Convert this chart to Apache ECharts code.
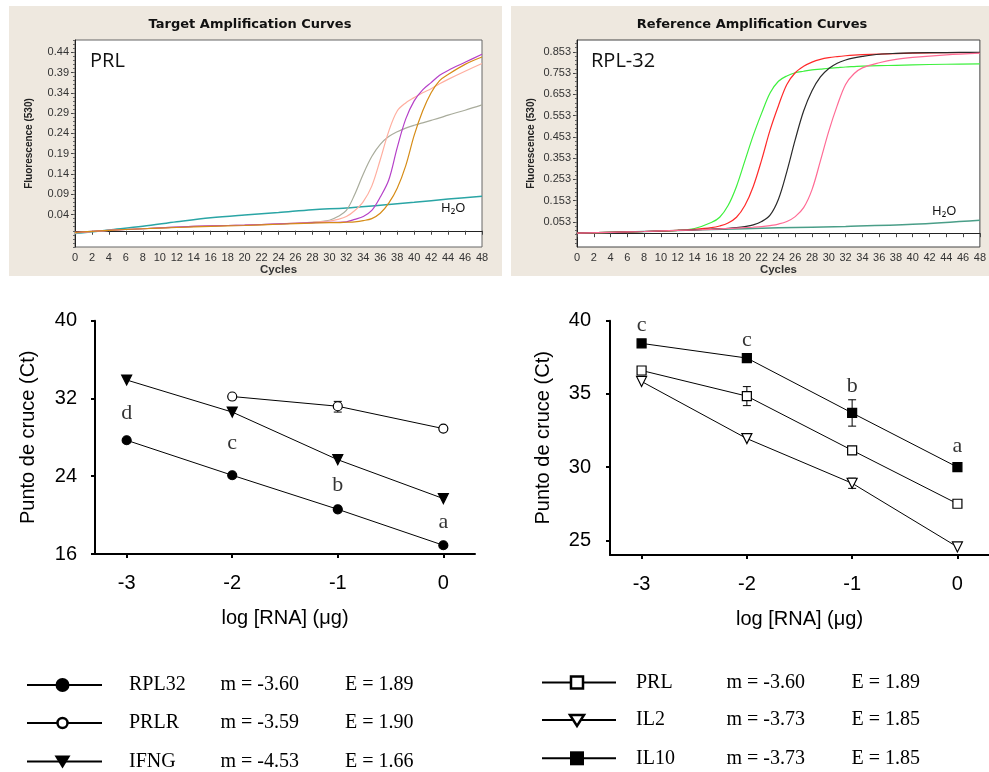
<!DOCTYPE html>
<html><head><meta charset="utf-8">
<script src="https://cdn.jsdelivr.net/npm/echarts@6/dist/echarts.min.js"></script>
<style>html,body{margin:0;padding:0;background:#fff}#c{width:989px;height:772px}</style>
</head><body><div id="c"></div><script>
// ---------- DATA ----------
// Top-left: PRL amplification curves (fluorescence vs cycle)
const prlCycles = [0,4,8,12,16,20,24,28,30,31,32,33,34,35,36,37,38,39,40,41,42,43,44,46,48];
const prlGray    = [-0.005,0.001,0.005,0.009,0.012,0.014,0.017,0.021,0.026,0.035,0.05,0.09,0.14,0.183,0.213,0.232,0.244,0.253,0.26,0.266,0.272,0.278,0.285,0.297,0.31];
const prlSalmon  = [-0.005,0.001,0.005,0.009,0.012,0.014,0.017,0.021,0.024,0.028,0.035,0.05,0.072,0.11,0.175,0.245,0.295,0.315,0.328,0.34,0.35,0.362,0.373,0.393,0.412];
const prlMagenta = [-0.004,0.001,0.005,0.009,0.012,0.014,0.017,0.02,0.021,0.021,0.022,0.028,0.035,0.05,0.083,0.125,0.205,0.275,0.32,0.347,0.365,0.383,0.395,0.415,0.435];
const prlOrange  = [-0.004,0.001,0.005,0.008,0.011,0.013,0.016,0.019,0.02,0.02,0.021,0.022,0.025,0.03,0.043,0.068,0.105,0.16,0.235,0.295,0.34,0.37,0.385,0.41,0.428];
const prlWaterCycles = [0,4,8,12,16,20,24,28,32,36,40,44,48];
const prlWater   = [-0.007,0.002,0.011,0.022,0.032,0.039,0.045,0.052,0.056,0.063,0.07,0.078,0.085];
const prlTickLabels = ['0.04','0.09','0.14','0.19','0.24','0.29','0.34','0.39','0.44'];

// Top-right: RPL-32 amplification curves
const rplCycles = [0,4,8,12,14,16,17,18,19,20,21,22,23,24,25,26,27,28,29,30,31,32,33,34,36,38,40,44,48];
const rplGreen = [0,0.004,0.008,0.013,0.022,0.05,0.075,0.13,0.22,0.34,0.46,0.565,0.66,0.715,0.74,0.755,0.762,0.768,0.772,0.776,0.779,0.782,0.784,0.786,0.788,0.79,0.792,0.795,0.797];
const rplRed   = [0,0.004,0.008,0.013,0.018,0.026,0.034,0.048,0.075,0.13,0.22,0.345,0.485,0.6,0.7,0.755,0.785,0.805,0.818,0.826,0.831,0.835,0.838,0.84,0.843,0.845,0.847,0.849,0.85];
const rplBlack = [0,0.004,0.008,0.013,0.016,0.019,0.021,0.023,0.026,0.031,0.039,0.055,0.085,0.16,0.29,0.44,0.575,0.67,0.735,0.775,0.8,0.815,0.825,0.832,0.842,0.846,0.848,0.85,0.851];
const rplPink  = [0,0.004,0.008,0.013,0.015,0.018,0.02,0.022,0.024,0.026,0.028,0.031,0.036,0.043,0.055,0.078,0.12,0.205,0.34,0.48,0.6,0.7,0.75,0.778,0.802,0.818,0.827,0.839,0.847];
const rplWaterCycles = [0,8,16,24,32,40,48];
const rplWater = [0,0.008,0.017,0.025,0.032,0.042,0.061];
const rplTickLabels = ['0.053','0.153','0.253','0.353','0.453','0.553','0.653','0.753','0.853'];

// Bottom: Ct vs log[RNA]
const logRNA = [-3,-2,-1,0];
const rpl32Ct = [27.7,24.1,20.6,16.9];
const prlrCt  = [null,32.2,31.2,28.9];
const ifngCt  = [33.9,30.6,25.7,21.7];
const leftLetters = ['d','c','b','a'];
const leftLetterY = [30.5,27.4,23.1,19.3];
const leftErr = [[-1,30.6,31.7]];

const prlCt  = [36.6,34.85,31.15,27.5];
const il2Ct  = [35.85,31.95,28.9,24.55];
const il10Ct = [38.45,37.45,33.7,30.0];
const rightLetters = ['c','c','b','a'];
const rightLetterY = [39.7,38.7,35.5,31.45];
const rightErr = [[-1,32.8,34.6],[-2,34.2,35.5],[-1,30.9,31.4],[-1,28.55,29.25]];
const rightCtTicks = [25,30,35,40];

// Legend
const legLeftNames = ['RPL32','PRLR','IFNG'];
const legLeftM = ['m = -3.60','m = -3.59','m = -4.53'];
const legLeftE = ['E = 1.89','E = 1.90','E = 1.66'];
const legRightNames = ['PRL','IL2','IL10'];
const legRightM = ['m = -3.60','m = -3.73','m = -3.73'];
const legRightE = ['E = 1.89','E = 1.85','E = 1.85'];

// ---------- BUILD ----------
const pairs = (xs, ys) => xs.map((x,i)=>[x, ys[i]]);
const num = a => a.map(Number);
function minorTicks(major, div, min, max){
  const step = (major[1]-major[0])/div, out=[];
  for(let k=-200;k<=200;k++){const v=+(major[0]+k*step).toFixed(6); if(v>=min&&v<=max) out.push(v);} return out;
}
const chart = echarts.init(document.getElementById('c'));
const sans = 'Liberation Sans, Arial, sans-serif';
const serif = 'Liberation Serif, Times New Roman, serif';

function topX(gi){ return {gridIndex:gi,type:'value',min:0,max:48,interval:2,
  axisLine:{lineStyle:{color:'#222',width:1}},axisTick:{length:4,lineStyle:{color:'#444'}},
  axisLabel:{fontSize:11,color:'#333',margin:5,fontFamily:sans,interval:0,hideOverlap:false},
  splitLine:{show:false},name:'Cycles',nameLocation:'middle',nameGap:17,
  nameTextStyle:{fontSize:11.5,fontWeight:'bold',color:'#333',fontFamily:sans}}; }
function topY(gi,min,max,labels){ const vals=num(labels); return {gridIndex:gi,type:'value',min,max,position:'left',
  axisLine:{show:true,lineStyle:{color:'#222',width:1}},
  axisTick:{show:true,length:4,customValues:vals,lineStyle:{color:'#444'}},
  axisLabel:{customValues:vals,formatter:v=>labels[vals.findIndex(t=>Math.abs(t-v)<1e-6)]||'',fontSize:11,color:'#333',margin:6,fontFamily:sans},
  splitLine:{show:false},name:'Fluorescence (530)',nameLocation:'middle',nameRotate:90,nameGap:41,
  nameTextStyle:{fontSize:10,fontWeight:'bold',color:'#222',fontFamily:sans}}; }
function topYMinor(gi,min,max,labels){ return {gridIndex:gi,type:'value',min,max,position:'left',
  axisLine:{show:false},axisLabel:{show:false},splitLine:{show:false},
  axisTick:{show:true,length:2,customValues:minorTicks(num(labels),5,min,max),lineStyle:{color:'#666'}}}; }
function botX(gi){ return {gridIndex:gi,type:'value',min:-3.3,max:0.3,
  axisLine:{onZero:false,lineStyle:{color:'#000',width:2}},
  axisTick:{length:4,customValues:logRNA,lineStyle:{color:'#000',width:2}},
  axisLabel:{customValues:logRNA,fontSize:20,color:'#000',margin:19,fontFamily:sans},
  splitLine:{show:false},name:'log [RNA] (\u03bcg)',nameLocation:'middle',nameGap:54,
  nameTextStyle:{fontSize:20,color:'#000',fontFamily:sans}}; }
function botY(gi,min,max,extra){ return Object.assign({gridIndex:gi,type:'value',min,max,
  axisLine:{show:true,onZero:false,lineStyle:{color:'#000',width:2}},
  axisTick:{show:true,length:4,lineStyle:{color:'#000',width:2}},
  axisLabel:{fontSize:20,color:'#000',margin:18,fontFamily:sans},
  splitLine:{show:false},name:'Punto de cruce (Ct)',nameLocation:'middle',nameRotate:90,nameGap:57,
  nameTextStyle:{fontSize:20,color:'#000',fontFamily:sans}},extra); }

function curve(xi,yi,xs,ys,color,w){ return {type:'line',xAxisIndex:xi,yAxisIndex:yi,data:pairs(xs,ys),
  symbol:'none',smooth:0.35,lineStyle:{color,width:w||1.2},silent:true,z:3}; }
function ctLine(xi,yi,name,ys,symbol,fill,rot,size){ return {type:'line',name,xAxisIndex:xi,yAxisIndex:yi,
  data:pairs(logRNA,ys),symbol,symbolSize:size||9,symbolRotate:rot||0,
  itemStyle:{color:fill,borderColor:'#000',borderWidth:1.2},lineStyle:{color:'#000',width:1},z:4,silent:true}; }
function errSeries(xi,yi,data){ return {type:'custom',xAxisIndex:xi,yAxisIndex:yi,data,z:3,silent:true,
  encode:{x:0,y:[1,2]},
  renderItem:(p,api)=>{const x=api.value(0),a=api.coord([x,api.value(2)]),b=api.coord([x,api.value(1)]),w=4;
    const st={stroke:'#000',lineWidth:1};
    return {type:'group',children:[
      {type:'line',shape:{x1:a[0],y1:a[1],x2:b[0],y2:b[1]},style:st},
      {type:'line',shape:{x1:a[0]-w,y1:a[1],x2:a[0]+w,y2:a[1]},style:st},
      {type:'line',shape:{x1:b[0]-w,y1:b[1],x2:b[0]+w,y2:b[1]},style:st}]};}}; }
function letters(xi,yi,ys,labs){ return {type:'scatter',xAxisIndex:xi,yAxisIndex:yi,data:pairs(logRNA,ys),
  symbolSize:0,itemStyle:{color:'transparent'},silent:true,z:5,
  label:{show:true,position:'inside',formatter:p=>labs[p.dataIndex],fontFamily:serif,fontSize:22,color:'#000'}}; }

// legend graphics
function legendRows(x0,x1,mx,names,ms,es,ys,syms,tx){
  const out=[];
  names.forEach((n,i)=>{const y=ys[i];
    out.push({type:'line',shape:{x1:x0,y1:y,x2:x1,y2:y},style:{stroke:'#000',lineWidth:2}});
    out.push(syms[i](mx,y));
    out.push({type:'text',x:tx[0],y,style:{text:n,font:'20px '+serif,fill:'#000',verticalAlign:'middle'}});
    out.push({type:'text',x:tx[1],y,style:{text:ms[i],font:'20px '+serif,fill:'#000',verticalAlign:'middle'}});
    out.push({type:'text',x:tx[2],y,style:{text:es[i],font:'20px '+serif,fill:'#000',verticalAlign:'middle'}});
  });
  return out;
}
const symFilledCircle=(x,y)=>({type:'circle',shape:{cx:x,cy:y,r:7},style:{fill:'#000'}});
const symOpenCircle=(x,y)=>({type:'circle',shape:{cx:x,cy:y,r:5},style:{fill:'#fff',stroke:'#000',lineWidth:2.5}});
const symFilledTri=(x,y)=>({type:'polygon',shape:{points:[[x-8,y-6],[x+8,y-6],[x,y+7]]},style:{fill:'#000'}});
const symOpenTri=(x,y)=>({type:'polygon',shape:{points:[[x-7,y-5],[x+7,y-5],[x,y+6]]},style:{fill:'#fff',stroke:'#000',lineWidth:2.5}});
const symOpenSq=(x,y)=>({type:'rect',shape:{x:x-6,y:y-6,width:12,height:12},style:{fill:'#fff',stroke:'#000',lineWidth:2.5}});
const symFilledSq=(x,y)=>({type:'rect',shape:{x:x-7,y:y-7,width:14,height:14},style:{fill:'#000'}});

const graphics = [
  {type:'rect',shape:{x:9,y:6,width:493,height:270},style:{fill:'#eee8df'},z:-10},
  {type:'rect',shape:{x:511,y:6,width:478,height:270},style:{fill:'#eee8df'},z:-10},
  {type:'text',x:250,y:25,style:{text:'Target Amplification Curves',font:'bold 13px DejaVu Sans',fill:'#111',align:'center',verticalAlign:'middle'}},
  {type:'text',x:752,y:25,style:{text:'Reference Amplification Curves',font:'bold 13px DejaVu Sans',fill:'#111',align:'center',verticalAlign:'middle'}},
  {type:'text',x:90,y:61,z:10,style:{text:'PRL',font:'20px Open Sans',fill:'#111',verticalAlign:'middle'}},
  {type:'text',x:591,y:61,z:10,style:{text:'RPL-32',font:'20px Open Sans',fill:'#111',verticalAlign:'middle'}},
  {type:'text',x:441,y:208,z:10,style:{text:'H\u2082O',font:'13px Noto Sans',fill:'#111',verticalAlign:'middle'}},
  {type:'text',x:932,y:211,z:10,style:{text:'H\u2082O',font:'13px Noto Sans',fill:'#111',verticalAlign:'middle'}},
  ...legendRows(27,102,62.5,legLeftNames,legLeftM,legLeftE,[685,723,761.5],[symFilledCircle,symOpenCircle,symFilledTri],[129,220.5,345]),
  ...legendRows(542,616,577,legRightNames,legRightM,legRightE,[682.5,720,758.3],[symOpenSq,symOpenTri,symFilledSq],[636,726.5,851.5])
];

chart.setOption({
  animation:false,
  backgroundColor:'#fff',
  grid:[
    {left:75,top:40,width:407,height:207,show:true,backgroundColor:'#fff',borderColor:'#666',borderWidth:1},
    {left:577,top:40,width:405,height:207,show:true,backgroundColor:'#fff',borderColor:'#444',borderWidth:1},
    {left:95,top:320.7,width:380,height:233.3},
    {left:610,top:320.7,width:380.5,height:234.3}
  ],
  xAxis:[topX(0),topX(1),botX(2),botX(3)],
  yAxis:[
    topY(0,-0.04,0.47,prlTickLabels), topYMinor(0,-0.04,0.47,prlTickLabels),
    topY(1,-0.065,0.909,rplTickLabels), topYMinor(1,-0.065,0.909,rplTickLabels),
    botY(2,16,40,{interval:8}),
    botY(3,24,40,{axisTick:{show:true,length:4,customValues:rightCtTicks,lineStyle:{color:'#000',width:2}},
                  axisLabel:{customValues:rightCtTicks,fontSize:20,color:'#000',margin:19,fontFamily:sans}})
  ],
  series:[
    curve(0,0,prlWaterCycles,prlWater,'#2aa5a5',1.5),
    curve(0,0,prlCycles,prlGray,'#a9ac9c'),
    curve(0,0,prlCycles,prlSalmon,'#ffae9f'),
    curve(0,0,prlCycles,prlMagenta,'#b540c8'),
    curve(0,0,prlCycles,prlOrange,'#d68c16'),
    curve(1,2,rplWaterCycles,rplWater,'#4a9e88',1.5),
    curve(1,2,rplCycles,rplGreen,'#3ef03e'),
    curve(1,2,rplCycles,rplRed,'#ff2a2a'),
    curve(1,2,rplCycles,rplBlack,'#2a2a2a'),
    curve(1,2,rplCycles,rplPink,'#ff6b95'),
    errSeries(2,4,leftErr),
    ctLine(2,4,'RPL32',rpl32Ct,'circle','#000'),
    ctLine(2,4,'PRLR',prlrCt,'circle','#fff'),
    ctLine(2,4,'IFNG',ifngCt,'triangle','#000',180,10),
    letters(2,4,leftLetterY,leftLetters),
    errSeries(3,5,rightErr),
    ctLine(3,5,'PRL',prlCt,'rect','#fff'),
    ctLine(3,5,'IL2',il2Ct,'triangle','#fff',180,10),
    ctLine(3,5,'IL10',il10Ct,'rect','#000'),
    letters(3,5,rightLetterY,rightLetters)
  ],
  graphic:graphics
});
</script></body></html>
